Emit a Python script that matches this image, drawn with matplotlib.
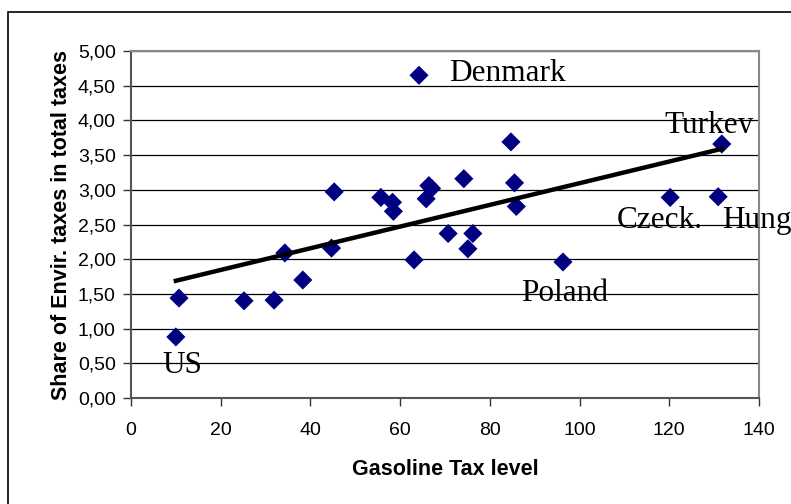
import numpy as np
import matplotlib
matplotlib.use("Agg")
import matplotlib.pyplot as plt
from matplotlib.patches import Rectangle
from matplotlib.ticker import FuncFormatter

# Data
gas_tax = [10.0, 10.7, 25.2, 31.9, 34.3, 38.3, 44.7, 45.3, 55.7, 58.3, 58.5,
           64.2, 63.1, 65.8, 66.4, 67.0, 70.7, 74.2, 75.1, 76.2, 84.7, 85.5,
           85.9, 96.3, 120.2, 130.9, 131.7]
env_share = [0.88, 1.44, 1.40, 1.41, 2.09, 1.70, 2.16, 2.97, 2.89, 2.82, 2.69,
             4.65, 1.99, 2.87, 3.06, 3.02, 2.37, 3.16, 2.15, 2.37, 3.69, 3.10,
             2.76, 1.96, 2.89, 2.90, 3.66]
label_names = ["Denmark", "Turkey", "Czeck.", "Hungary", "Poland", "US"]
label_x = [70.9, 119.0, 108.3, 131.7, 86.9, 6.9]
label_y = [4.68, 3.92, 2.56, 2.56, 1.51, 0.47]
xticks = [0, 20, 40, 60, 80, 100, 120, 140]
yticks = [0, 0.5, 1, 1.5, 2, 2.5, 3, 3.5, 4, 4.5, 5]

fig = plt.figure(figsize=(7.91, 5.04), dpi=100)
# outer frame
fig.patches.append(Rectangle((8 / 791, -0.1), 1.2, (504 - 12) / 504 + 0.1,
                             transform=fig.transFigure, fill=False,
                             edgecolor="black", linewidth=1.2))
ax = fig.add_axes([131 / 791, 106 / 504, 628 / 791, 347 / 504])

ax.scatter(gas_tax, env_share, marker="D", s=95, color="#000080",
           edgecolors="none", zorder=3)

# linear trend line
coef = np.polyfit(gas_tax, env_share, 1)
tx = np.array([min(gas_tax), max(gas_tax)])
ax.plot(tx, np.polyval(coef, tx), color="black", linewidth=3.2, zorder=4)

ax.set_xlim(0, 140)
ax.set_ylim(0, 5)
ax.set_xticks(xticks)
ax.set_yticks(yticks)
ax.yaxis.set_major_formatter(FuncFormatter(lambda v, p: f"{v:.2f}".replace(".", ",")))
ax.grid(axis="y", color="black", linewidth=0.9)
ax.set_axisbelow(True)
for s in ["top", "right"]:
    ax.spines[s].set_color("#888888")
    ax.spines[s].set_linewidth(1.5)
for s in ["left", "bottom"]:
    ax.spines[s].set_color("#555555")
    ax.spines[s].set_linewidth(1.5)
ax.tick_params(direction="out", length=6, width=1, color="#333333",
               labelsize=14, pad=5)
ax.tick_params(axis="x", pad=11)
for lab in ax.get_xticklabels() + ax.get_yticklabels():
    lab.set_family("Liberation Sans")

ax.set_xlabel("Gasoline Tax level", fontsize=15.5, fontweight="bold",
              family="Liberation Sans", labelpad=15)
ax.set_ylabel("Share of Envir. taxes in total taxes", fontsize=15.5,
              fontweight="bold", family="Liberation Sans", labelpad=4)

for name, x, y in zip(label_names, label_x, label_y):
    t = ax.text(x, y, name, fontsize=22.5, family="Liberation Serif",
                va="center", ha="left", clip_on=False, zorder=5)
    if name == "Turkey":
        # the reference cuts off the bottom of this label
        t.set_clip_on(True)
        t.set_clip_path(Rectangle((100, 3.82), 40, 1.2, transform=ax.transData))

fig.savefig("out.png", dpi=100)
